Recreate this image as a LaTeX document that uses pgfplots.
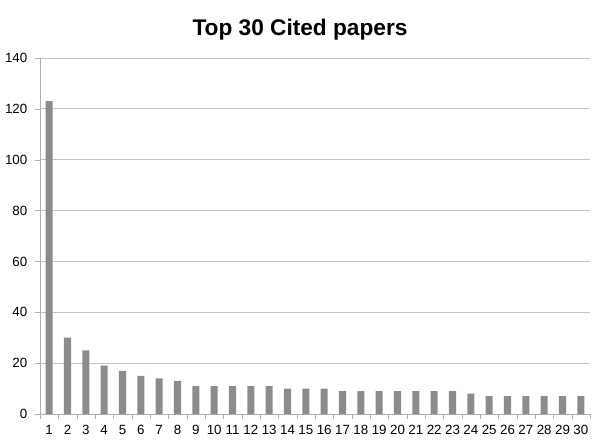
\documentclass[border=0pt]{standalone}
\usepackage{fontspec}
\setmainfont{Liberation Sans}
\usepackage{pgfplots}
\pgfplotsset{compat=1.18}
\definecolor{barcol}{HTML}{8C8C8C}
\definecolor{gridcol}{HTML}{C4C4C4}
\definecolor{axcol}{HTML}{B0B0B0}

\begin{document}
\begin{tikzpicture}[x=1pt,y=1pt]
\useasboundingbox (-30,-22.5) rectangle (420,310.5);
\begin{axis}[
  at={(0,0)},anchor=south west,
  scale only axis,width=412.5pt,height=267pt,
  xmin=0.5,xmax=30.5,ymin=0,ymax=140,
  xtick={1,...,30},
  minor xtick={0.5,1.5,...,30.5},
  ytick={0,20,...,140},
  major x tick style={draw=none},
  minor x tick style={draw=axcol},
  minor tick length=4pt,
  major tick length=4pt,
  y tick style={draw=axcol},
  tick align=outside,
  tick pos=lower,
  axis x line*=bottom,
  axis y line*=left,
  axis line style={draw=axcol,-},
  ymajorgrids,
  grid style={draw=gridcol,line width=0.6pt},
  tick label style={font=\fontsize{10}{12}\selectfont},
  /pgf/number format/assume math mode=true,
  xticklabel style={yshift=-1pt},
  yticklabel style={xshift=-2pt},
]
\addplot[ybar,bar width=5.3pt,fill=barcol,draw=none] coordinates {
(1,123)(2,30)(3,25)(4,19)(5,17)(6,15)(7,14)(8,13)(9,11)(10,11)
(11,11)(12,11)(13,11)(14,10)(15,10)(16,10)(17,9)(18,9)(19,9)(20,9)
(21,9)(22,9)(23,9)(24,8)(25,7)(26,7)(27,7)(28,7)(29,7)(30,7)};
\end{axis}
\node[font=\bfseries\fontsize{17}{20}\selectfont] at (195,288) {Top 30 Cited papers};
\end{tikzpicture}
\end{document}
